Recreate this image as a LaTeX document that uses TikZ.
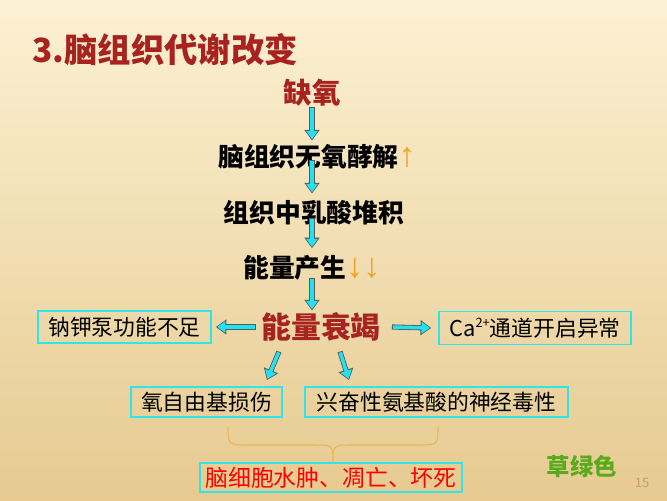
\documentclass[tikz,border=0pt]{standalone}
\usepackage{fontspec}
\setmainfont{Noto Sans CJK SC}
\newfontfamily\arrowfont{Liberation Sans}
\usetikzlibrary{arrows.meta,calc}
\definecolor{titlered}{HTML}{A8231F}
\definecolor{boxcyan}{HTML}{2EE6EA}
\definecolor{arrowcyan}{HTML}{22E2F2}
\definecolor{upor}{HTML}{F5A01E}
\definecolor{bracor}{HTML}{EFB45A}
\definecolor{grass}{HTML}{5AAA1E}
\definecolor{pagenum}{HTML}{C9A062}
\definecolor{bgtop}{HTML}{FCF1D3}
\definecolor{bgbot}{HTML}{E6CA90}
\newcommand{\fsz}[1]{\fontsize{#1}{#1}\selectfont}

\begin{document}
\begin{tikzpicture}[x=0.03cm,y=-0.03cm]
 \tikzset{blockarrow/.style={draw=black!65, line width=4.4pt, -{Triangle[length=9pt,width=12.5pt]},
   postaction={draw=arrowcyan, line width=3pt, -{Triangle[length=7pt,width=9.6pt]}, shorten >=1.1pt, shorten <=0.7pt}}}
 \tikzset{step text/.style={inner sep=0pt, font=\fsz{22pt}\bfseries}}
 \tikzset{red text/.style={inner sep=0pt, text=titlered, font=\fsz{#1}\bfseries}}
 \tikzset{result/.style={draw=boxcyan, line width=1.6pt, inner sep=0pt, font=\fsz{18.6pt}}}
  % background
  \useasboundingbox (0,0) rectangle (667,500);
  \shade[top color=bgtop, bottom color=bgbot] (0,0) rectangle (667,500);
  % title and chain
  \node[red text=28.5pt, anchor=west] (T) at (32,50) {3.脑组织代谢改变};
  \node[red text=24.3pt] (Q) at (312,93) {缺氧};
  \node[step text, anchor=west] (N1) at (218,157) {脑组织无氧酵解\textcolor{upor}{\arrowfont\mdseries\fsz{29pt}↑}};
  \node[step text] (N2) at (314,213) {组织中乳酸堆积};
  \node[step text, anchor=west] (N3) at (243,268) {能量产生\textcolor{upor}{\arrowfont\mdseries\fsz{29pt}↓↓}};
  \node[red text=25.5pt] (H) at (321,327) {能量衰竭};
  % boxes
  \node[result, minimum width=5.19cm, minimum height=0.96cm] (NK) at (124.5,327) {钠钾泵功能不足};
  \node[result, minimum width=5.76cm, minimum height=0.99cm] (CA) at (535,328) {Ca\raisebox{0.4em}{\fsz{11pt}2+}通道开启异常};
  \node[result, minimum width=4.53cm, minimum height=0.9cm] (OX) at (206.5,402) {氧自由基损伤};
  \node[result, minimum width=7.89cm, minimum height=0.9cm] (XF) at (436.5,402) {兴奋性氨基酸的神经毒性};
  \node[result, minimum width=7.86cm, minimum height=0.87cm, text=red, font=\fsz{19.5pt}] (BT) at (331,477.5) {脑细胞水肿、凋亡、坏死};
  \node[inner sep=0pt, text=grass, font=\fsz{20pt}\bfseries] (GR) at (582,466) {草绿色};
  \node[inner sep=0pt, text=pagenum, font=\fsz{11pt}] (PG) at (642,483) {15};
  % arrows
  \draw[blockarrow] (Q.south) -- ($(Q.south |- N1.north)+(0,-4)$);
  \draw[blockarrow] ($(Q.south |- N1.center)+(0,3)$) -- ($(Q.south |- N2.north)+(0,-7)$);
  \draw[blockarrow] ($(Q.south |- N2.center)+(0,5)$) -- ($(Q.south |- N3.north)+(0,-7)$);
  \draw[blockarrow] ($(Q.south |- N3.center)+(0,10)$) -- ($(Q.south |- H.north)+(0,-2)$);
  \draw[blockarrow] ($(H.west)+(-5,0)$) -- ($(NK.east)+(4,0)$);
  \draw[blockarrow] ($(H.east)+(11,0)$) -- ($(CA.west)+(-7,0)$);
  \draw[blockarrow] ($(H.south)+(-42,10)$) -- ($(OX.north east)+(-16,-6)$);
  \draw[blockarrow] ($(H.south)+(19,10)$) -- ($(XF.north west)+(45,-6)$);
  % brace
  \draw[bracor, line width=0.9pt] (228,427) .. controls (228,445) .. (250,445) -- (312,445)
    .. controls (333,445) .. (333,462) .. controls (333,445) .. (354,445) -- (416,445)
    .. controls (438,445) .. (438,427);
\end{tikzpicture}
\end{document}
